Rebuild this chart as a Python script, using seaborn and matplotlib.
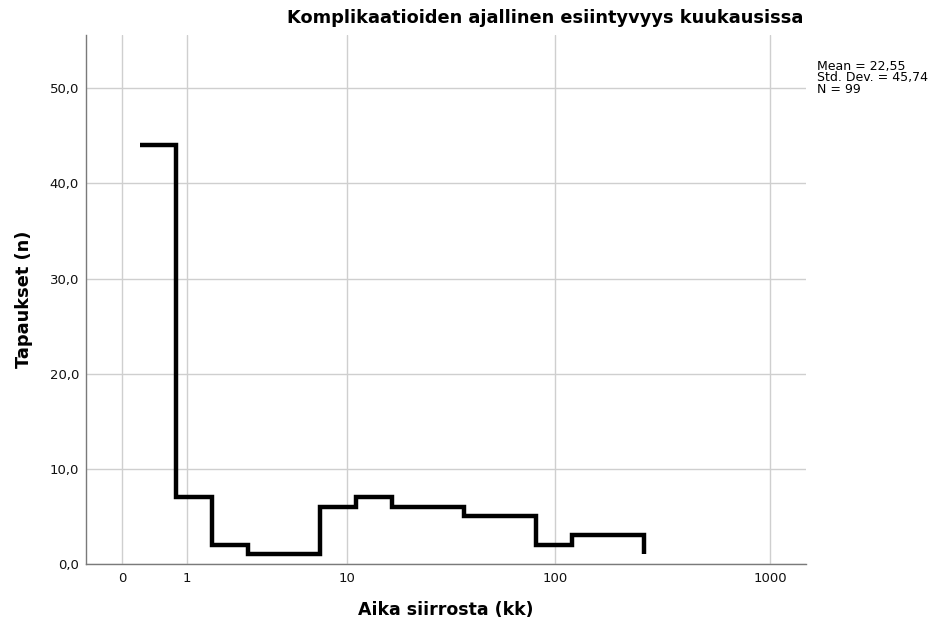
import numpy as np
import pandas as pd
import seaborn as sns
import matplotlib
matplotlib.use("Agg")
import matplotlib.pyplot as plt
from matplotlib.ticker import FixedLocator, FixedFormatter, NullLocator

# Start of each time bin (months after transplant) and number of complications in it
bin_start_months = [0.21, 0.78, 1.61, 2.83, 4.62, 7.25, 11.12, 16.78,
                    25.10, 37.31, 55.23, 81.54, 120.15, 176.83, 260.02]
case_counts = [44, 7, 2, 1, 1, 6, 7, 6, 6, 5, 5, 2, 3, 3, 1]

x_ticks = [0, 1, 10, 100, 1000]
x_tick_labels = ["0", "1", "10", "100", "1000"]
y_ticks = [0, 10, 20, 30, 40, 50]
y_tick_labels = ["0,0", "10,0", "20,0", "30,0", "40,0", "50,0"]

title = "Komplikaatioiden ajallinen esiintyvyys kuukausissa"
x_label = "Aika siirrosta (kk)"
y_label = "Tapaukset (n)"
stats_text = "Mean = 22,55\nStd. Dev. = 45,74\nN = 99"

df = pd.DataFrame({"months": bin_start_months, "count": case_counts})

sns.set_theme(style="white")
plt.rcParams["font.family"] = ["DejaVu Sans"]
plt.rcParams["text.color"] = "black"

fig = plt.figure(figsize=(9.38, 6.25), dpi=100)
ax = fig.add_axes([86 / 938, 61 / 625, 720 / 938, 529 / 625])

# log10(x + 1) axis so that zero can be shown
def fwd(x):
    return np.log10(np.asarray(x, dtype=float) + 1.0)

def inv(u):
    return np.power(10.0, np.asarray(u, dtype=float)) - 1.0

ax.set_xscale("function", functions=(fwd, inv))

sns.lineplot(data=df, x="months", y="count", ax=ax, color="black",
             linewidth=3.2, drawstyle="steps-post",
             solid_joinstyle="miter", solid_capstyle="butt")

ax.set_xlim(inv(-1 / 6), inv(3 + 1 / 6))
ax.set_ylim(0, 55.6)

ax.xaxis.set_major_locator(FixedLocator(x_ticks))
ax.xaxis.set_major_formatter(FixedFormatter(x_tick_labels))
ax.xaxis.set_minor_locator(NullLocator())
ax.yaxis.set_major_locator(FixedLocator(y_ticks))
ax.yaxis.set_major_formatter(FixedFormatter(y_tick_labels))

ax.grid(True, color="#cfcfcf", linewidth=1.0)
ax.set_axisbelow(True)
ax.tick_params(axis="both", length=0, labelsize=9.5, colors="#111111")
ax.tick_params(axis="x", pad=6)
ax.tick_params(axis="y", pad=5)

for side in ["top", "right"]:
    ax.spines[side].set_visible(False)
for side in ["left", "bottom"]:
    ax.spines[side].set_color("#7a7a7a")
    ax.spines[side].set_linewidth(1.0)

ax.set_xlabel(x_label, fontsize=12.5, fontweight="bold", labelpad=11, color="black")
ax.set_ylabel(y_label, fontsize=12.8, fontweight="bold", labelpad=12, color="black")

fig.text(803 / 938, 1 - 18 / 625, title, ha="right", va="center",
         fontsize=12.8, fontweight="bold", color="black")
fig.text(817 / 938, 1 - 60 / 625, stats_text, ha="left", va="top",
         fontsize=9, linespacing=0.85, color="black")

fig.savefig("out.png", dpi=100)
